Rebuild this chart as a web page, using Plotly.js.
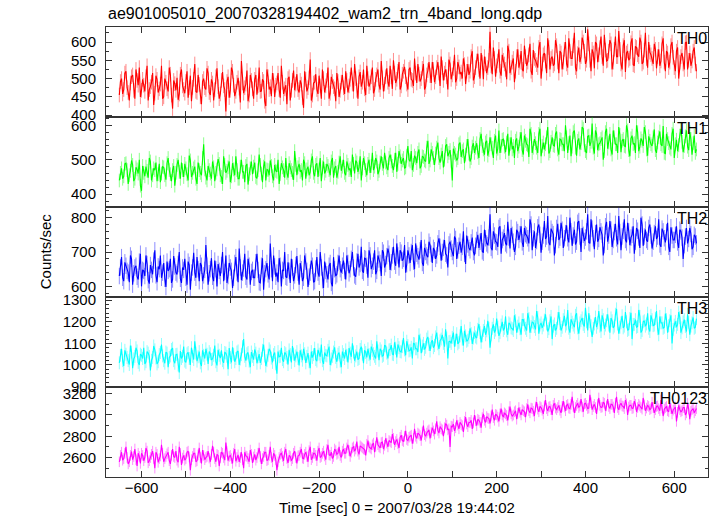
<!DOCTYPE html>
<html>
<head>
<meta charset="utf-8">
<script src="https://cdn.plot.ly/plotly-3.0.1.min.js"></script>
<style>html,body{margin:0;padding:0;background:#fff;}#chart{width:717px;height:516px;}</style>
</head>
<body>
<div id="chart"></div>
<script>
// Time sampling of the light curves (seconds from 2007/03/28 19:44:02)
// "main" samples at tStart + i*tStep, "mid" samples half a step later
const tStart = -650;
const tStep = 5;

const bandNames = ["TH0", "TH1", "TH2", "TH3", "TH0123"];
// approximate 1-sigma statistical error of one bin, per band (counts/sec)
const bandErrors = [20, 20, 24, 30, 50];

const th0 = [
455,500,470,520,462,488,510,445,495,530,468,482,505,440,478,515,460,498,472,535,
450,490,465,512,418,486,502,458,525,470,492,448,508,476,540,462,484,430,500,470,
515,455,488,470,528,445,495,480,410,505,468,520,452,490,474,548,460,485,438,510,
472,498,456,530,466,492,425,505,478,515,450,488,470,535,458,482,500,440,495,468,
512,462,485,420,498,475,552,455,490,470,508,445,500,480,530,460,492,472,515,450,
490,475,520,462,498,485,540,468,505,478,525,455,500,488,530,470,510,482,548,465,
505,490,535,472,515,498,545,480,520,505,470,530,495,555,488,512,500,540,478,522,
508,545,490,530,515,560,495,525,470,540,510,565,500,532,518,555,485,540,520,575,
505,548,525,570,498,540,530,628,512,555,535,580,508,550,525,590,515,545,490,560,
530,575,520,560,545,595,510,555,538,585,500,565,548,610,525,560,540,590,515,570,
545,600,530,575,555,625,520,585,560,600,540,635,550,580,528,595,565,615,535,578,
550,605,525,580,560,630,540,590,518,575,555,610,535,585,560,600,545,625,530,572,
555,595,528,580,548,610,520,570,545,600,530,575,500,560,540,598,525,570,548,585,520];
const th0Mid = [
492,458,515,475,440,505,468,525,482,450,498,465,535,470,490,428,508,462,485,445,
500,472,530,455,495,468,442,512,480,460,520,475,438,498,465,510,450,492,475,528,
462,498,440,505,478,458,518,470,492,448,530,482,465,502,435,488,475,522,455,495,
445,510,480,465,498,438,525,470,452,495,482,515,448,490,472,430,505,468,522,485,
470,495,448,520,465,502,440,488,512,458,480,525,462,495,445,505,478,438,492,468,
510,458,495,480,530,465,500,445,518,490,472,535,478,505,460,498,525,470,502,485,
528,478,505,550,488,520,470,512,532,485,525,498,480,515,540,492,528,470,510,545,
488,525,505,545,480,530,515,505,552,498,528,490,545,512,500,538,520,510,560,495,
530,568,500,545,560,515,550,535,585,505,548,520,565,540,498,575,530,555,520,580,
545,525,590,535,565,520,578,550,530,600,540,570,515,585,555,535,605,545,575,525,
580,540,610,555,590,530,568,545,612,575,550,595,520,570,600,545,585,560,620,548,
575,595,545,615,560,580,525,605,570,550,598,538,588,565,612,540,578,555,600,565,
540,580,560,535,595,545,575,530,590,558,520,585,545,570,525,600,550,535,575,540];

const th1 = [
440,475,452,490,430,468,485,445,472,500,410,462,480,448,495,455,470,438,488,460,
478,442,505,458,470,425,485,465,492,450,475,440,498,462,480,430,470,455,545,448,
482,460,495,438,472,488,450,510,462,478,435,490,455,470,445,500,465,482,428,475,
458,492,446,515,460,480,440,470,498,452,485,465,430,490,470,505,448,478,462,525,
455,488,470,500,445,480,465,510,452,490,472,438,495,468,482,455,505,475,448,492,
468,500,455,485,475,515,460,492,478,440,505,470,488,462,520,480,495,468,510,475,
492,470,515,482,500,465,525,488,505,478,540,495,470,512,490,530,482,508,495,555,
498,520,485,535,505,515,478,540,510,528,440,520,498,545,508,530,515,560,495,538,
520,548,505,575,530,550,512,565,535,555,518,585,540,560,522,575,545,530,505,562,
538,580,515,555,542,590,520,560,535,575,510,550,545,595,525,565,540,582,515,558,
545,600,520,570,538,585,512,562,548,590,525,568,540,605,518,575,545,560,500,580,
532,575,515,565,545,595,522,560,538,585,510,570,548,600,525,562,540,580,512,555,
540,588,520,565,545,598,518,560,535,575,505,558,542,590,522,568,538,580,515,570,530];
const th1Mid = [
462,445,488,470,455,498,438,478,460,425,482,452,468,505,440,475,492,458,435,480,
455,490,470,438,482,462,500,445,470,488,458,512,450,475,445,492,462,505,472,440,
470,445,478,462,502,455,430,485,468,495,452,472,510,445,480,465,435,488,458,495,
480,450,470,485,435,495,472,455,482,440,468,500,458,478,448,462,490,470,442,485,
478,465,440,490,472,455,498,462,485,450,505,478,460,488,470,495,448,482,465,510,
480,462,495,470,450,488,498,465,510,475,490,455,500,482,470,505,458,492,488,520,
478,505,495,470,520,488,510,498,475,512,500,525,485,505,520,475,510,498,535,488,
530,505,518,550,492,525,500,545,520,495,532,515,505,550,525,490,540,518,505,548,
535,522,560,540,515,555,528,545,505,570,532,520,558,538,550,512,565,540,555,525,
560,528,570,545,508,575,535,548,520,590,540,530,565,518,552,542,575,530,560,545,
525,565,548,510,580,535,555,530,595,542,520,570,552,535,585,528,548,565,525,590,
550,530,585,545,520,572,555,540,600,528,562,545,520,580,538,555,595,530,568,545,
565,528,550,582,540,520,575,548,530,590,545,525,570,552,540,585,528,560,548,520];

const th2 = [
630,685,615,660,640,690,605,655,628,672,600,645,690,618,662,635,705,612,650,625,
668,598,645,680,620,658,635,700,610,648,625,672,590,655,640,685,615,660,632,720,
605,650,628,675,600,645,662,615,690,630,655,595,668,640,710,618,652,628,680,605,
648,625,695,612,660,590,650,635,725,615,658,640,682,600,645,628,670,610,655,632,
688,605,650,625,672,598,640,660,615,685,628,655,595,645,620,668,600,650,635,690,
640,675,620,668,650,700,632,672,655,715,640,680,625,690,660,705,645,678,630,698,
665,710,648,690,672,725,655,698,680,640,705,668,720,650,695,678,735,660,700,685,
720,668,705,690,740,675,712,695,655,730,700,745,680,718,698,760,665,722,705,742,
690,735,712,755,698,740,720,810,705,748,728,770,695,742,725,788,710,750,700,765,
735,775,715,752,740,795,705,760,732,780,698,748,738,805,720,758,690,770,735,785,
712,755,740,800,718,765,730,790,700,750,742,810,725,768,708,780,738,760,690,775,
730,790,715,758,740,805,705,762,735,785,720,750,695,770,742,800,718,765,730,780,
710,755,738,795,715,760,728,785,700,748,735,775,712,760,680,745,725,770,708,750,725];
const th2Mid = [
655,625,670,645,612,680,638,660,620,695,648,630,665,608,648,675,632,658,690,640,
622,672,650,610,688,640,665,622,655,680,605,662,640,698,625,650,668,615,648,660,
638,682,615,650,665,630,700,642,610,668,645,625,685,612,655,640,695,620,660,642,
625,670,648,610,682,638,668,620,650,690,628,612,660,648,700,625,645,680,615,662,
640,668,615,690,645,628,675,612,652,640,700,618,672,635,660,610,685,630,668,650,
660,645,690,638,680,655,628,695,665,645,682,660,705,650,672,635,690,668,705,655,
688,695,670,715,660,690,705,675,720,665,690,700,672,725,688,705,668,712,690,730,
695,712,680,725,715,700,735,690,722,710,688,738,705,730,715,695,748,712,728,700,
718,750,730,702,765,725,742,712,760,730,715,775,735,755,720,742,770,730,715,758,
752,728,770,748,725,780,740,712,772,750,730,790,745,728,768,752,720,782,742,765,
740,778,728,760,748,722,785,745,770,732,760,728,795,740,755,730,772,750,720,788,
748,765,735,782,722,758,745,795,728,760,742,775,730,762,712,780,745,735,770,748,
730,775,745,722,768,740,758,715,772,735,750,728,765,742,720,770,738,752,715,745];

const th3 = [
1010,1075,995,1050,1020,1090,985,1040,1065,1000,1045,1080,1015,1055,975,1035,1070,1005,1048,1095,
1020,1060,990,1042,1078,1008,1050,965,1030,1085,1012,1058,1000,1040,1110,1018,1062,995,1045,1075,
1005,1052,1028,1090,998,1045,1068,1010,1055,980,1035,1082,1015,1060,1000,1048,1120,1020,1058,990,
1040,1072,1008,1050,1030,1095,995,1045,1065,1012,1058,960,1038,1080,1015,1052,1002,1048,1088,1020,
1062,998,1042,1075,1010,1055,985,1035,1078,1018,1050,1095,1005,1045,1068,1000,1040,1082,1015,1058,
990,1048,1070,1012,1055,1100,1020,1062,1030,1085,1008,1058,1075,1025,1068,1040,1110,1022,1065,1045,
1088,1030,1072,1050,1105,1035,1080,1060,1125,1045,1090,1068,1030,1098,1075,1140,1055,1100,1082,1130,
1065,1115,1090,1150,1075,1120,1100,1165,1030,1110,1128,1085,1145,1105,1180,1090,1135,1115,1170,1098,
1150,1125,1190,1105,1160,1140,1205,1080,1170,1150,1215,1135,1185,1160,1225,1140,1190,1168,1230,1150,
1195,1140,1210,1170,1240,1150,1200,1178,1250,1145,1195,1185,1235,1155,1205,1120,1190,1170,1245,1160,
1210,1180,1255,1150,1198,1175,1240,1145,1205,1188,1265,1160,1200,1130,1190,1175,1250,1155,1210,1185,
1235,1150,1205,1180,1260,1145,1195,1172,1245,1160,1215,1120,1188,1175,1255,1150,1200,1180,1240,1155,
1210,1185,1250,1140,1195,1170,1238,1150,1205,1100,1185,1175,1245,1150,1200,1178,1235,1140,1195,1170,1215];
const th3Mid = [
1045,1020,1068,1035,1002,1060,1028,1080,1012,1050,1030,1005,1062,1040,1022,1088,1032,1015,1058,1042,
1008,1055,1035,1072,1020,1048,1000,1065,1040,1018,1052,1030,1080,1025,1055,1038,1010,1068,1030,1050,
1062,1025,1045,1015,1070,1032,1020,1058,1040,1078,1012,1050,1030,1065,1028,1085,1040,1052,1018,1060,
1025,1055,1038,1010,1068,1042,1020,1075,1032,1048,1005,1062,1040,1025,1058,1035,1070,1012,1050,1042,
1030,1068,1022,1052,1040,1015,1062,1048,1025,1070,1038,1020,1058,1042,1085,1028,1060,1035,1050,1018,
1062,1030,1045,1078,1038,1060,1042,1025,1072,1050,1068,1035,1048,1085,1052,1030,1065,1075,1040,1090,
1055,1070,1092,1048,1078,1095,1062,1085,1070,1110,1065,1082,1100,1075,1060,1115,1088,1072,1120,1095,
1105,1080,1130,1098,1112,1140,1085,1125,1108,1100,1150,1115,1098,1135,1120,1158,1110,1128,1145,1125,
1130,1165,1150,1135,1180,1158,1170,1140,1188,1162,1175,1150,1200,1170,1158,1195,1172,1160,1205,1180,
1168,1210,1185,1160,1215,1178,1195,1165,1220,1185,1172,1208,1190,1168,1225,1180,1160,1215,1192,1175,
1228,1190,1170,1212,1185,1230,1172,1195,1218,1178,1200,1240,1182,1170,1222,1195,1180,1230,1168,1205,
1185,1218,1172,1235,1190,1175,1228,1180,1200,1165,1242,1188,1210,1178,1225,1160,1205,1190,1170,1230,
1182,1215,1168,1225,1195,1175,1210,1182,1230,1165,1202,1188,1220,1172,1210,1155,1198,1180,1220,1175];

const th0123 = [
2560,2650,2590,2700,2540,2620,2580,2680,2520,2610,2640,2570,2690,2550,2600,2660,2500,2630,2590,2720,
2560,2610,2650,2540,2680,2600,2575,2700,2530,2620,2590,2660,2480,2610,2640,2570,2690,2545,2620,2600,
2660,2560,2710,2590,2630,2520,2650,2600,2740,2570,2620,2545,2680,2600,2560,2650,2500,2615,2590,2670,
2550,2630,2600,2690,2540,2610,2650,2580,2700,2560,2620,2480,2600,2640,2570,2680,2550,2610,2590,2660,
2545,2620,2680,2590,2650,2560,2700,2600,2640,2570,2690,2610,2660,2580,2720,2620,2590,2680,2630,2700,
2600,2680,2640,2720,2610,2690,2660,2750,2630,2700,2680,2620,2760,2690,2720,2650,2790,2700,2740,2680,
2780,2700,2750,2820,2720,2770,2690,2810,2750,2850,2760,2800,2730,2870,2780,2820,2760,2900,2800,2850,
2780,2880,2820,2940,2830,2870,2800,2920,2860,2700,2890,2850,2950,2870,2910,2840,2980,2890,2930,2870,
3000,2900,2950,2880,3010,2930,2970,2920,3050,2950,3000,2940,3060,2980,3010,2950,3080,2990,3030,2960,
3070,3000,3040,2980,3100,3020,3060,2990,3120,3030,3070,3010,3140,3040,3080,3000,3110,3050,3090,3020,
3130,3040,3100,3060,3170,3020,3090,3070,3150,3030,3110,3060,3190,3050,3100,3010,3160,3070,3120,3040,
3150,3060,3100,3020,3170,3050,3110,3080,3140,3000,3090,3060,3130,3030,3100,3070,3160,3040,3090,3050,
3120,3020,3080,3060,3140,2990,3070,3040,3110,3010,3060,2940,3090,3030,3070,3000,3110,2960,3050,3020,3060];
const th0123Mid = [
2620,2575,2640,2600,2560,2655,2610,2580,2640,2545,2620,2600,2660,2570,2630,2590,2650,2555,2615,2640,
2590,2635,2570,2620,2610,2660,2555,2640,2595,2575,2650,2605,2580,2640,2560,2625,2600,2670,2580,2610,
2595,2630,2650,2560,2620,2600,2640,2575,2655,2610,2590,2640,2565,2625,2600,2580,2650,2610,2560,2630,
2605,2575,2640,2610,2590,2650,2570,2620,2600,2640,2580,2560,2630,2610,2650,2590,2620,2570,2640,2600,
2615,2650,2595,2630,2610,2665,2580,2640,2620,2660,2600,2640,2615,2675,2625,2650,2610,2665,2640,2620,
2660,2640,2690,2665,2650,2700,2680,2660,2710,2690,2675,2725,2700,2680,2735,2705,2720,2690,2745,2715,
2735,2760,2740,2780,2750,2730,2790,2760,2800,2770,2790,2810,2780,2800,2830,2805,2840,2815,2830,2860,
2835,2850,2870,2855,2890,2860,2880,2905,2870,2895,2915,2880,2905,2930,2900,2940,2915,2930,2950,2925,
2945,2960,2930,2975,2950,2985,2965,2990,2975,3005,2980,3010,3000,3020,2995,3030,3010,3000,3040,3015,
3025,3050,3030,3060,3040,3065,3035,3075,3055,3080,3045,3085,3060,3075,3050,3090,3065,3070,3045,3080,
3075,3090,3065,3100,3080,3070,3110,3085,3075,3105,3090,3065,3115,3080,3070,3100,3090,3075,3110,3085,
3080,3100,3075,3110,3070,3095,3085,3060,3105,3075,3090,3065,3100,3070,3085,3055,3095,3065,3080,3060,
3070,3050,3085,3040,3065,3055,3080,3030,3060,3045,3075,3025,3050,3040,3070,3020,3055,3035,3060,3040];

const xTickVals = [-600,-500,-400,-300,-200,-100,0,100,200,300,400,500,600];
const xTickText = ["\u2212600","","\u2212400","","\u2212200","","0","","200","","400","","600"];

const mainSeries = [th0, th1, th2, th3, th0123];
const midSeries = [th0Mid, th1Mid, th2Mid, th3Mid, th0123Mid];
const colors = ["#ff0000", "#00ff00", "#0000ff", "#00ffff", "#ff00ff"];
const errColors = ["rgba(255,0,0,0.45)", "rgba(0,255,0,0.45)", "rgba(0,0,255,0.45)", "rgba(0,255,255,0.45)", "rgba(255,0,255,0.45)"];
const yRanges = [[395, 641], [363, 624], [569, 831], [898, 1315], [2417, 3263]];
const yMajor = [50, 100, 100, 100, 200];
const yMinor = [25, 20, 20, 20, 100];

const FONT = "Liberation Sans, Arial, Helvetica, sans-serif";
const AXC = "#333333";

// interleave main and mid samples in time order
function buildCurve(main, mid) {
  const xs = [], ys = [];
  for (let i = 0; i < main.length; i++) {
    xs.push(tStart + i * tStep); ys.push(main[i]);
    if (i < mid.length) { xs.push(tStart + i * tStep + tStep / 2); ys.push(mid[i]); }
  }
  return {xs, ys};
}

const traces = mainSeries.map((vals, k) => {
  const c = buildCurve(vals, midSeries[k]);
  return {
    type: "scatter", mode: "lines",
    x: c.xs, y: c.ys,
    xaxis: "x" + (k + 1), yaxis: "y" + (k + 1),
    line: {color: colors[k], width: 1.1},
    error_y: {type: "constant", value: bandErrors[k], width: 0, thickness: 1, color: errColors[k]},
    hoverinfo: "skip", showlegend: false
  };
});

const layout = {
  width: 717, height: 516,
  margin: {l: 106, r: 9, t: 27, b: 39},
  paper_bgcolor: "#ffffff", plot_bgcolor: "#ffffff",
  font: {family: FONT, size: 15, color: "#000"},
  showlegend: false,
  annotations: []
};

for (let k = 0; k < 5; k++) {
  const sfx = k + 1;
  const top = 1 - 0.2 * k, bot = 1 - 0.2 * (k + 1);
  const xa = {
    range: [-680, 676],
    anchor: "y" + sfx,
    tickmode: "array", tickvals: xTickVals, ticktext: xTickText,
    ticks: "inside", ticklen: 6, tickwidth: 1, tickcolor: AXC,
    showticklabels: k === 4,
    ticklabelstandoff: -3,
    showline: true, linecolor: AXC, linewidth: 1, mirror: "allticks",
    showgrid: false, zeroline: false,
    tickfont: {family: FONT, size: 15, color: "#000"}
  };
  if (k > 0) xa.matches = "x";
  layout["xaxis" + sfx] = xa;
  layout["yaxis" + sfx] = {
    domain: [bot, top],
    anchor: "x" + sfx,
    range: yRanges[k],
    dtick: yMajor[k], tick0: 0,
    ticks: "inside", ticklen: 6, tickwidth: 1, tickcolor: AXC,
    minor: {dtick: yMinor[k], tick0: 0, ticks: "inside", ticklen: 3, tickcolor: AXC, showgrid: false},
    showline: true, linecolor: AXC, linewidth: 1, mirror: "allticks",
    showgrid: false, zeroline: false,
    ticklabelstandoff: 6,
    tickfont: {family: FONT, size: 15, color: "#000"}
  };
  layout.annotations.push({
    xref: "paper", yref: "paper", x: 1.0, y: top - 0.002, xshift: 1,
    xanchor: "right", yanchor: "top", showarrow: false,
    text: bandNames[k], font: {family: FONT, size: 16, color: "#000"}
  });
}

layout.annotations.push({
  xref: "paper", yref: "paper", x: 0.0, y: 1.029, xanchor: "left", yanchor: "middle",
  showarrow: false, text: "ae901005010_20070328194402_wam2_trn_4band_long.qdp",
  font: {family: FONT, size: 16, color: "#000"}
});
layout.annotations.push({
  xref: "paper", yref: "paper", x: -0.101, y: 0.502, xanchor: "center", yanchor: "middle",
  textangle: -90, showarrow: false, text: "Counts/sec",
  font: {family: FONT, size: 15, color: "#000"}
});
layout.annotations.push({
  xref: "paper", yref: "paper", x: 0.484, y: -0.0667, xanchor: "center", yanchor: "middle",
  showarrow: false, text: "Time [sec] 0 = 2007/03/28 19:44:02",
  font: {family: FONT, size: 15, color: "#000"}
});

Plotly.newPlot("chart", traces, layout, {displayModeBar: false, staticPlot: true});
</script>
</body>
</html>
